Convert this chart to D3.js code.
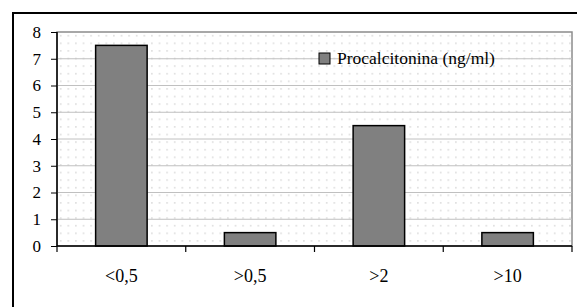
<!DOCTYPE html>
<html>
<head>
<meta charset="utf-8">
<script src="https://cdn.jsdelivr.net/npm/d3@7"></script>
<style>
  body { margin: 0; background: #fff; }
  svg { display: block; }
  svg text { font-family: "Liberation Serif", "Times New Roman", "DejaVu Serif", serif; }
</style>
</head>
<body>
<div id="chart"></div>
<script>
// data
const categories = ["<0,5", ">0,5", ">2", ">10"];
const values = [7.5, 0.5, 4.5, 0.5];
const yTicks = [0, 1, 2, 3, 4, 5, 6, 7, 8];
const seriesName = "Procalcitonina (ng/ml)";

const W = 577, H = 307;
const plot = { left: 57, top: 32, right: 572, bottom: 246 };

const svg = d3.select("#chart").append("svg")
    .attr("width", W)
    .attr("height", H);

// dotted background pattern
const defs = svg.append("defs");
const pat = defs.append("pattern")
    .attr("id", "dots")
    .attr("patternUnits", "userSpaceOnUse")
    .attr("width", 7.6)
    .attr("height", 7.6)
    .attr("x", plot.left)
    .attr("y", plot.top);
pat.append("rect")
    .attr("x", 3).attr("y", 3)
    .attr("width", 1.4).attr("height", 1.4)
    .attr("fill", "#d2d2d2");

// outer frame (right / bottom edges fall outside the picture)
svg.append("rect")
    .attr("x", 13).attr("y", 13)
    .attr("width", 620).attr("height", 320)
    .attr("fill", "none")
    .attr("stroke", "#000")
    .attr("stroke-width", 2);

var x = d3.scaleBand()
    .domain(categories)
    .range([plot.left, plot.right])
    .paddingInner(0.6)
    .paddingOuter(0.3);

var y = d3.scaleLinear()
    .domain([0, 8])
    .range([plot.bottom, plot.top]);

// plot background
svg.append("rect")
    .attr("x", plot.left).attr("y", plot.top)
    .attr("width", plot.right - plot.left)
    .attr("height", plot.bottom - plot.top)
    .attr("fill", "url(#dots)")
    .attr("stroke", "#8c8c8c")
    .attr("stroke-width", 1.5);

// gridlines
svg.append("g")
  .selectAll("line")
  .data(yTicks.filter(function(d) { return d > 0 && d < 8; }))
  .enter().append("line")
    .attr("x1", plot.left).attr("x2", plot.right)
    .attr("y1", function(d) { return y(d); })
    .attr("y2", function(d) { return y(d); })
    .attr("stroke", "#c0c0c0")
    .attr("stroke-width", 1);

// bars
svg.append("g")
  .selectAll("rect")
  .data(values)
  .enter().append("rect")
    .attr("x", function(d, i) { return x(categories[i]); })
    .attr("y", function(d) { return y(d); })
    .attr("width", x.bandwidth())
    .attr("height", function(d) { return y(0) - y(d); })
    .attr("fill", "#808080")
    .attr("stroke", "#000")
    .attr("stroke-width", 1.5);

// y axis
var yAxis = svg.append("g")
    .attr("transform", "translate(" + plot.left + ",0)")
    .call(d3.axisLeft(y).tickValues(yTicks).tickSize(6).tickPadding(10).tickFormat(d3.format("d")));

// x axis with ticks on category boundaries
var xAxis = svg.append("g")
    .attr("transform", "translate(0," + plot.bottom + ")")
    .call(d3.axisBottom(x).tickSize(0).tickPadding(23));

var bounds = d3.range(categories.length + 1).map(function(i) {
  return plot.left + i * (plot.right - plot.left) / categories.length;
});
xAxis.selectAll(".bound")
  .data(bounds)
  .enter().append("line")
    .attr("class", "bound")
    .attr("x1", function(d) { return d; })
    .attr("x2", function(d) { return d; })
    .attr("y1", 0).attr("y2", 6)
    .attr("stroke", "#000")
    .attr("stroke-width", 1.2);

[yAxis, xAxis].forEach(function(a) {
  a.attr("font-family", null).attr("font-size", null);
  a.select(".domain").attr("stroke", "#000").attr("stroke-width", 1.5);
  a.selectAll("text").attr("fill", "#000");
});
yAxis.selectAll("text").attr("font-size", 17);
xAxis.selectAll("text").attr("font-size", 18);
yAxis.select(".domain").attr("d", "M0," + plot.bottom + "V" + plot.top);
xAxis.select(".domain").attr("d", "M" + plot.left + ",0H" + plot.right);

// legend
var legend = svg.append("g")
    .attr("transform", "translate(319,53)");
legend.append("rect")
    .attr("width", 11).attr("height", 11)
    .attr("fill", "#808080")
    .attr("stroke", "#000")
    .attr("stroke-width", 1);
legend.append("text")
    .attr("x", 18).attr("y", 11)
    .attr("font-size", 17.5)
    .attr("fill", "#000")
    .text(seriesName);
</script>
</body>
</html>
